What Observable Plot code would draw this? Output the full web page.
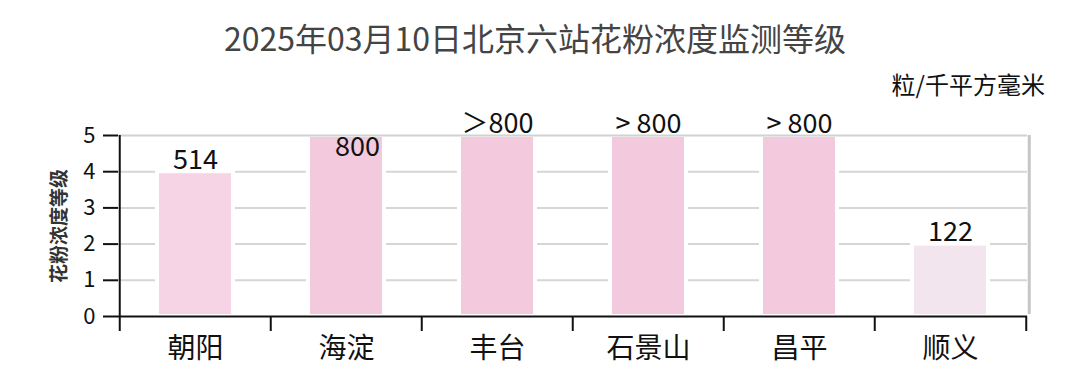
<!DOCTYPE html>
<html><head><meta charset="utf-8">
<script src="https://cdn.jsdelivr.net/npm/d3@7"></script>
<script src="https://cdn.jsdelivr.net/npm/@observablehq/plot@0.6"></script>
<style>
body{margin:0;background:#fff;font-family:"Noto Sans CJK SC",sans-serif;}
#wrap{position:relative;width:1080px;height:376px;overflow:hidden;}
#title{position:absolute;left:0;width:1070px;top:21px;text-align:center;font-size:32px;line-height:1;color:#444;font-weight:400;}
#unit{position:absolute;right:35px;top:72px;font-size:24px;line-height:1;color:#111;}
#chart{position:absolute;left:0;top:0;}
</style></head>
<body>
<div id="wrap">
  <div id="chart"></div>
  <div id="title">2025年03月10日北京六站花粉浓度监测等级</div>
  <div id="unit">粒/千平方毫米</div>
</div>
<script>
const stations = ["朝阳", "海淀", "丰台", "石景山", "昌平", "顺义"];
const levels = [4, 5, 5, 5, 5, 2];
const valueLabels = ["514", "800", "＞800", "> 800", "> 800", "122"];
const yTicks = [0, 1, 2, 3, 4, 5];
const levelDomain = [2, 4, 5];
const levelColors = ["#f3e5ee", "#f6d4e6", "#f2c9dd"];
const yLabel = "花粉浓度等级";

const data = stations.map((s, i) => ({station: s, level: levels[i], label: valueLabels[i]}));
const above = data.filter(d => d.station !== "海淀");
const inside = data.filter(d => d.station === "海淀");

const W = 1080, H = 376, mL = 118, mR = 53, mT = 135, mB = 60;
const step = (W - mL - mR) / stations.length;
const innerH = H - mT - mB;

const chart = Plot.plot({
  width: W, height: H,
  marginLeft: mL, marginRight: mR, marginTop: mT, marginBottom: mB,
  style: {fontFamily: "'Noto Sans CJK SC', sans-serif", background: "white", color: "#111"},
  x: {domain: stations, paddingInner: 0.5, paddingOuter: 0.25, label: null},
  y: {domain: [0, 5], label: null},
  color: {type: "ordinal", domain: levelDomain, range: levelColors},
  marks: [
    Plot.gridY([1, 2, 3, 4], {stroke: "#d6d6d6", strokeOpacity: 1, strokeWidth: 2}),
    Plot.barY(data, {x: "station", y: "level", fill: "level", stroke: "white", strokeWidth: 4}),
    Plot.ruleY([5], {stroke: "#d2d2d2", strokeWidth: 2}),
    Plot.ruleX([stations[stations.length - 1]], {dx: step / 2 + 3, stroke: "#c6c6c6", strokeWidth: 3, insetBottom: 2}),
    Plot.ruleX([stations[0]], {dx: -step / 2, stroke: "#111", strokeWidth: 2, insetBottom: -15}),
    Plot.ruleX(stations.slice(1), {dx: -step / 2, stroke: "#111", strokeWidth: 2, insetTop: innerH, insetBottom: -15}),
    Plot.ruleX([stations[stations.length - 1]], {dx: step / 2, stroke: "#111", strokeWidth: 2, insetTop: innerH, insetBottom: -15}),
    Plot.ruleY([0], {stroke: "#111", strokeWidth: 2}),
    Plot.axisY(yTicks, {tickSize: 15, tickPadding: 8, fontSize: 22, stroke: "#111", strokeWidth: 2, label: null, tickFormat: d => String(d)}),
    Plot.axisX({tickSize: 0, tickPadding: 22, fontSize: 28, label: null}),
    Plot.text(above, {x: "station", y: "level", text: "label", lineAnchor: "bottom", dy: -3, fontSize: 27, fill: "#111"}),
    Plot.text(inside, {x: "station", y: "level", text: "label", lineAnchor: "top", dx: 11, dy: 1, fontSize: 27, fill: "#111"}),
    Plot.text([yLabel], {frameAnchor: "left", dx: -59, rotate: -90, textAnchor: "middle", fontSize: 19, fontWeight: "bold", fill: "#333"})
  ]
});
document.getElementById("chart").appendChild(chart);
</script>
</body></html>
